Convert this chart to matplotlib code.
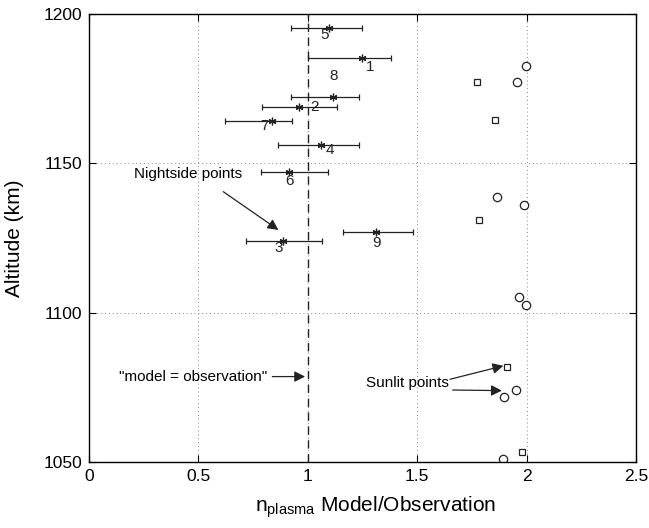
import matplotlib
matplotlib.use("Agg")
import matplotlib.pyplot as plt

plt.rcParams['font.family'] = ['Liberation Sans', 'DejaVu Sans']

# Nightside points: ratio, altitude, error bar ends, label
night_id = ['5', '1', '8', '2', '7', '4', '6', '3', '9']
night_x = [1.097, 1.247, 1.114, 0.962, 0.835, 1.059, 0.915, 0.888, 1.312]
night_alt = [1195.2, 1185.2, 1172.1, 1169.0, 1164.2, 1156.1, 1147.0, 1124.1, 1127.1]
night_lo = [0.925, 1.003, 0.925, 0.790, 0.622, 0.863, 0.785, 0.718, 1.160]
night_hi = [1.250, 1.382, 1.236, 1.134, 0.930, 1.233, 1.091, 1.067, 1.480]
label_x = [1.075, 1.285, 1.120, 1.033, 0.800, 1.102, 0.915, 0.867, 1.312]
label_alt = [1193.0, 1182.4, 1179.2, 1168.8, 1162.5, 1154.5, 1144.2, 1121.8, 1123.2]

# Sunlit points
sq_x = [1.774, 1.856, 1.784, 1.909, 1.978]
sq_alt = [1177.3, 1164.5, 1130.9, 1081.7, 1053.5]
circ_x = [1.998, 1.955, 1.864, 1.986, 1.964, 1.998, 1.951, 1.897, 1.891]
circ_alt = [1182.6, 1177.3, 1138.6, 1136.1, 1105.1, 1102.6, 1074.1, 1071.7, 1051.1]

fig = plt.figure(figsize=(6.49, 5.28), dpi=100)
ax = fig.add_axes([0.137, 0.125, 0.843, 0.8485])

xerr = [[x - lo for x, lo in zip(night_x, night_lo)],
        [hi - x for x, hi in zip(night_x, night_hi)]]
ax.errorbar(night_x, night_alt, xerr=xerr, fmt='none', ecolor='#222222',
            elinewidth=0.9, capsize=2.5, capthick=0.9)
ax.plot(night_x, night_alt, linestyle='none', marker=(6, 2, 0), ms=5.5,
        mec='#222222', mew=0.9)
for t, lx, ly in zip(night_id, label_x, label_alt):
    ax.text(lx, ly, t, ha='center', va='center', fontsize=11, color='#222222')

ax.plot(sq_x, sq_alt, linestyle='none', marker='s', ms=5, mfc='white',
        mec='#222222', mew=0.9)
ax.plot(circ_x, circ_alt, linestyle='none', marker='o', ms=6, mfc='white',
        mec='#222222', mew=0.9)

ax.axvline(1.0, color='#222222', lw=1.0, linestyle=(0, (6, 4)))

arrow = dict(arrowstyle='-|>', color='#222222', lw=0.9,
             mutation_scale=16, shrinkA=0, shrinkB=0)
ax.text(0.455, 1146.4, 'Nightside points', ha='center', va='center', fontsize=11)
ax.annotate('', xy=(0.866, 1127.7), xytext=(0.614, 1140.5), arrowprops=arrow)

ax.text(0.813, 1078.6, '"model = observation"', ha='right', va='center', fontsize=11)
ax.annotate('', xy=(0.988, 1078.6), xytext=(0.838, 1078.6), arrowprops=arrow)

ax.text(1.645, 1076.3, 'Sunlit points', ha='right', va='center', fontsize=11)
ax.annotate('', xy=(1.894, 1082.2), xytext=(1.650, 1077.7), arrowprops=arrow)
ax.annotate('', xy=(1.887, 1073.9), xytext=(1.662, 1074.1), arrowprops=arrow)

ax.set_xlim(0, 2.5)
ax.set_ylim(1050, 1200)
ax.set_xticks([0, 0.5, 1, 1.5, 2, 2.5])
ax.set_xticklabels(['0', '0.5', '1', '1.5', '2', '2.5'])
ax.set_yticks([1050, 1100, 1150, 1200])
ax.tick_params(direction='in', top=True, right=True, length=5, width=0.8,
               labelsize=12.5, pad=5)
ax.grid(True, linestyle=(0, (1, 3)), color='#888888', lw=0.7)
for s in ax.spines.values():
    s.set_linewidth(1.0)

ax.set_ylabel('Altitude (km)', fontsize=15, labelpad=14)
ax.set_xlabel(r'$\mathregular{n_{plasma}}$ Model/Observation', fontsize=15)
ax.xaxis.set_label_coords(0.524, -0.073)

fig.savefig('out.png', dpi=100)
